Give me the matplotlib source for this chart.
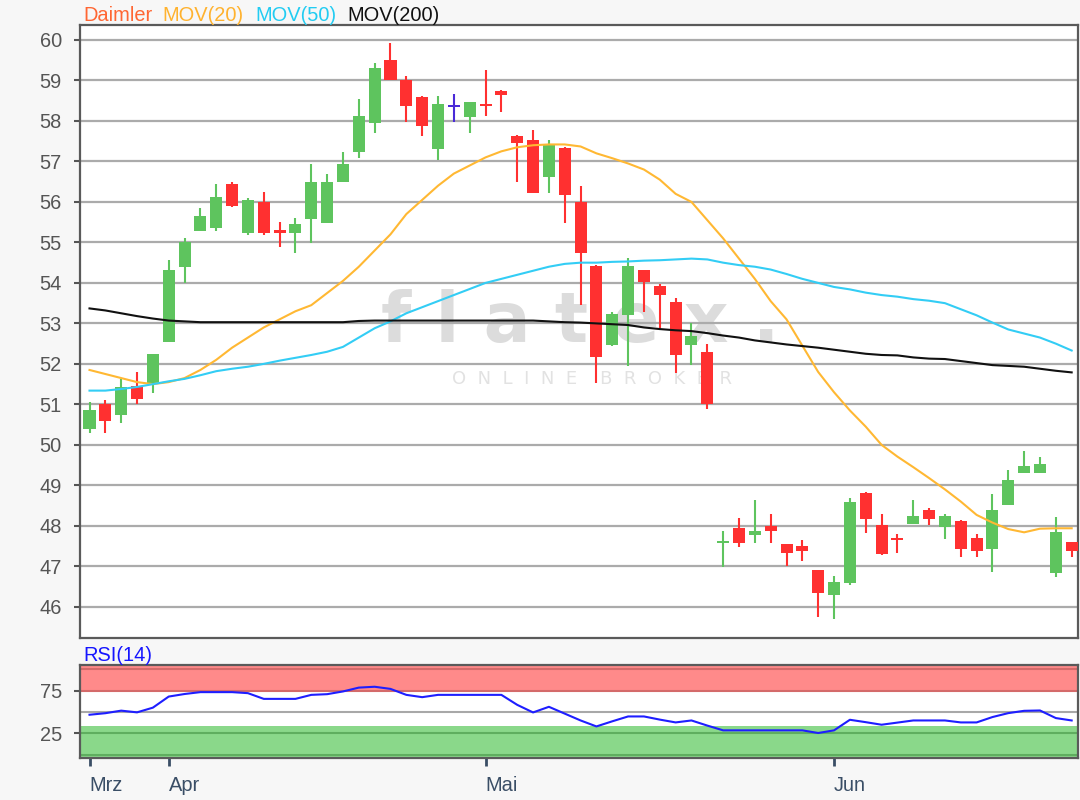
import matplotlib
matplotlib.use('Agg')
import matplotlib.pyplot as plt
import numpy as np

plt.rcParams['font.family'] = ['Liberation Sans', 'DejaVu Sans']

# daily candles, late March .. end of June
opens = [50.40, 51.00, 50.74, 51.46, 51.51, 52.55, 54.40, 55.28, 55.36, 56.44,
         55.23, 56.00, 55.30, 55.23, 55.57, 55.47, 56.50, 57.24, 57.94, 59.51,
         59.00, 58.60, 57.30, 58.35, 58.09, 58.42, 58.74, 57.63, 57.53, 56.61,
         57.33, 56.00, 54.42, 52.47, 53.21, 54.32, 53.93, 53.52, 52.47, 52.29,
         47.58, 47.94, 47.78, 48.00, 47.55, 47.51, 46.90, 46.30, 46.59, 48.82,
         48.01, 47.71, 48.05, 48.40, 47.97, 48.13, 47.70, 47.42, 48.52, 49.30,
         49.30, 46.84, 47.60]
highs = [51.05, 51.10, 51.62, 51.80, 52.25, 54.57, 55.10, 55.85, 56.44, 56.50,
         56.10, 56.25, 55.50, 55.60, 56.94, 56.69, 57.23, 58.54, 59.42, 59.92,
         59.11, 58.62, 58.62, 58.66, 58.47, 59.26, 58.77, 57.65, 57.78, 57.53,
         57.35, 56.40, 54.45, 53.28, 54.61, 54.33, 53.98, 53.62, 53.02, 52.49,
         47.88, 48.19, 48.64, 48.29, 47.55, 47.64, 46.92, 46.75, 48.68, 48.84,
         48.29, 47.80, 48.64, 48.45, 48.29, 48.14, 47.80, 48.78, 49.37, 49.86,
         49.71, 48.23, 47.60]
lows = [50.30, 50.30, 50.54, 51.00, 51.28, 52.55, 54.00, 55.28, 55.28, 55.87,
        55.19, 55.19, 54.88, 54.73, 54.98, 55.47, 56.50, 57.09, 57.70, 59.00,
        57.98, 57.63, 57.04, 57.98, 57.70, 58.13, 58.23, 56.50, 56.21, 56.21,
        55.47, 53.46, 51.52, 52.45, 51.94, 53.29, 52.88, 51.77, 51.98, 50.88,
        46.98, 47.47, 47.57, 47.57, 47.01, 47.12, 45.74, 45.70, 46.54, 47.82,
        47.27, 47.33, 48.05, 48.01, 47.67, 47.22, 47.22, 46.87, 48.52, 49.30,
        49.30, 46.73, 47.23]
closes = [50.86, 50.58, 51.44, 51.13, 52.24, 54.32, 55.00, 55.65, 56.12, 55.90,
          56.05, 55.23, 55.24, 55.45, 56.49, 56.49, 56.94, 58.12, 59.30, 59.00,
          58.38, 57.88, 58.41, 58.35, 58.46, 58.37, 58.65, 57.45, 56.21, 57.41,
          56.16, 54.73, 52.17, 53.23, 54.42, 54.03, 53.70, 52.21, 52.68, 51.01,
          47.62, 47.57, 47.88, 47.88, 47.33, 47.38, 46.34, 46.61, 48.59, 48.17,
          47.31, 47.66, 48.25, 48.17, 48.25, 47.42, 47.37, 48.38, 49.14, 49.47,
          49.52, 47.84, 47.39]

mov20 = [51.85, 51.75, 51.65, 51.55, 51.50, 51.55, 51.65, 51.85, 52.10, 52.40,
         52.65, 52.90, 53.10, 53.30, 53.45, 53.75, 54.05, 54.40, 54.80, 55.20,
         55.70, 56.05, 56.40, 56.70, 56.90, 57.10, 57.25, 57.35, 57.40, 57.42,
         57.42, 57.37, 57.20, 57.08, 56.95, 56.80, 56.55, 56.20, 56.00, 55.55,
         55.10, 54.60, 54.10, 53.55, 53.10, 52.45, 51.80, 51.30, 50.85, 50.45,
         50.00, 49.71, 49.45, 49.18, 48.90, 48.60, 48.27, 48.08, 47.92, 47.84,
         47.93, 47.94, 47.94]
mov50 = [51.34, 51.34, 51.38, 51.43, 51.50, 51.57, 51.63, 51.72, 51.82, 51.88,
         51.93, 52.00, 52.08, 52.15, 52.22, 52.30, 52.42, 52.65, 52.88, 53.05,
         53.25, 53.40, 53.55, 53.70, 53.85, 54.00, 54.10, 54.20, 54.30, 54.40,
         54.47, 54.50, 54.50, 54.52, 54.53, 54.55, 54.56, 54.58, 54.60, 54.58,
         54.50, 54.44, 54.40, 54.33, 54.22, 54.10, 54.00, 53.90, 53.84, 53.76,
         53.70, 53.66, 53.60, 53.56, 53.50, 53.35, 53.20, 53.02, 52.85, 52.75,
         52.65, 52.50, 52.33]
mov200 = [53.37, 53.32, 53.25, 53.18, 53.12, 53.07, 53.05, 53.03, 53.03, 53.03,
          53.03, 53.03, 53.03, 53.03, 53.03, 53.03, 53.03, 53.06, 53.07, 53.07,
          53.07, 53.07, 53.07, 53.07, 53.07, 53.07, 53.07, 53.07, 53.07, 53.05,
          53.03, 53.02, 53.00, 52.98, 52.96, 52.90, 52.86, 52.83, 52.81, 52.76,
          52.70, 52.65, 52.58, 52.53, 52.48, 52.44, 52.40, 52.35, 52.30, 52.25,
          52.22, 52.21, 52.16, 52.13, 52.12, 52.07, 52.02, 51.97, 51.95, 51.93,
          51.88, 51.83, 51.79]
rsi14 = [46.7, 48.5, 51.5, 49.5, 55.0, 68.0, 71.0, 73.2, 73.2, 73.2,
         72.0, 65.3, 65.3, 65.3, 70.0, 70.8, 74.0, 78.5, 79.5, 77.0,
         70.0, 67.3, 70.0, 70.0, 70.0, 70.0, 70.0, 58.3, 49.4, 56.0,
         48.0, 40.0, 33.0, 39.0, 44.7, 44.7, 41.0, 37.7, 40.0, 34.0,
         28.4, 28.4, 28.4, 28.4, 28.4, 28.4, 25.3, 28.4, 40.8, 38.0,
         35.0, 37.5, 40.0, 40.0, 40.0, 37.7, 37.7, 44.0, 48.6, 51.3,
         51.7, 42.8, 40.0]

month_ticks = [0, 5, 25, 47]
month_labels = ['Mrz', 'Apr', 'Mai', 'Jun']
price_ticks = list(range(46, 61))

W, H = 1080, 800
fig = plt.figure(figsize=(W / 100, H / 100), dpi=100, facecolor='#f7f7f7')
ax = fig.add_axes([80 / W, 1 - 638 / H, 998 / W, 613 / H])
ax2 = fig.add_axes([80 / W, 1 - 758 / H, 998 / W, 93 / H])

x = np.arange(len(opens))
o = np.array(opens)
c = np.array(closes)
cols = np.where(c > o, '#5ec45e', np.where(c < o, '#ff3030', '#4a2ad8'))

# watermark
ax.text(580 / W, 1 - 342 / H, 'f l a t e x .', transform=fig.transFigure, ha='center',
        va='baseline', fontsize=50, fontweight='bold', color='#dcdcdc',
        family='DejaVu Sans', zorder=0.2)
ax.text(592 / W, 1 - 384 / H, 'O  N  L  I  N  E    B  R  O  K  E  R', transform=fig.transFigure,
        ha='center', va='baseline', fontsize=13, color='#e2e2e2', family='DejaVu Sans', zorder=0.2)

ax.vlines(x, lows, highs, colors=cols, lw=1.5, zorder=3)
body = np.maximum(np.abs(c - o), 0.04)
ax.bar(x, body, bottom=np.minimum(o, c), width=0.76, color=cols, zorder=3)

ax.plot(x, mov20, color='#ffb833', lw=1.5, zorder=4)
ax.plot(x, mov50, color='#33cdf5', lw=1.5, zorder=4)
ax.plot(x, mov200, color='#111111', lw=1.5, zorder=4)

ax.set_xlim(-0.6, 62.4)
ax.set_ylim(45.23, 60.37)
ax.set_yticks(price_ticks)
ax.set_xticks([])
ax.grid(axis='y', color='#ababab', lw=1.6)
ax.set_axisbelow(True)
ax.tick_params(axis='y', length=4, width=1.5, color='#555555', labelsize=14.4,
               labelcolor='#555555', pad=9)
for s in ax.spines.values():
    s.set_color('#5a5a5a')
    s.set_linewidth(1.6)

# RSI panel
ax2.axhspan(74, 105, color='#ff8a8a', lw=0)
ax2.axhspan(-4, 34, color='#8ad88a', lw=0)
for lvl, lc in [(100, '#d46a6a'), (75, '#d46a6a'), (50, '#a8a8a8'), (25, '#5fae5f'), (0, '#5fae5f')]:
    ax2.axhline(lvl, color=lc, lw=1.5)
ax2.plot(x, rsi14, color='#1e1eff', lw=1.5)
ax2.set_xlim(-0.6, 62.4)
ax2.set_ylim(-4, 105)
ax2.set_yticks([25, 75])
ax2.tick_params(axis='y', length=4, width=1.5, color='#555555', labelsize=14.4,
                labelcolor='#555555', pad=9)
ax2.set_xticks(month_ticks)
ax2.set_xticklabels(month_labels)
for lab in ax2.get_xticklabels():
    lab.set_horizontalalignment('left')
ax2.tick_params(axis='x', length=6, width=2, color='#3a4e66', labelsize=14.4,
                labelcolor='#3a4e66', pad=7)
for s in ax2.spines.values():
    s.set_color('#5a5a5a')
    s.set_linewidth(1.6)

# header legend
fig.text(83 / W, 1 - 21 / H, 'Daimler', color='#ff6633', fontsize=14.4, va='baseline')
fig.text(162 / W, 1 - 21 / H, 'MOV(20)', color='#ffb22e', fontsize=14.4, va='baseline')
fig.text(255 / W, 1 - 21 / H, 'MOV(50)', color='#22ccf2', fontsize=14.4, va='baseline')
fig.text(347 / W, 1 - 21 / H, 'MOV(200)', color='#111111', fontsize=14.4, va='baseline')
fig.text(83 / W, 1 - 661 / H, 'RSI(14)', color='#1515ff', fontsize=14.4, va='baseline')

fig.savefig('out.png', dpi=100, facecolor=fig.get_facecolor())
